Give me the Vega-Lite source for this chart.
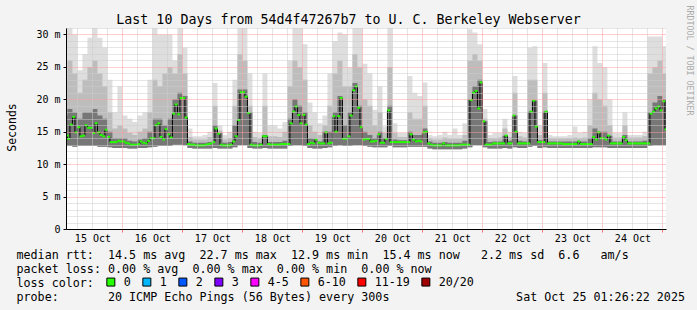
{
"$schema": "https://vega.github.io/schema/vega-lite/v6.json",
"width": 600, "height": 201,
"autosize": {"type": "none"},
"padding": {"left": 66, "top": 28, "right": 31, "bottom": 81},
"background": "#f3f3f3",
"title": {"text": "Last 10 Days from 54d4f47267b7 to U. C. Berkeley Webserver", "font": "DejaVu Sans Mono", "fontSize": 13.3, "fontWeight": "normal", "color": "#000000", "anchor": "middle", "frame": "group", "dx": -17.5, "baseline": "alphabetic", "offset": -32},
"datasets": {
"smoke": [
{"t":1.43,"lo":12.8,"dhi":17.5,"mhi":23,"hi":31},
{"t":2,"lo":12.8,"dhi":18.5,"mhi":26,"hi":31},
{"t":4,"lo":12.7,"dhi":18,"mhi":24,"hi":30},
{"t":6,"lo":12.8,"dhi":17,"mhi":21,"hi":24.5},
{"t":8,"lo":12.8,"dhi":18,"mhi":23,"hi":27},
{"t":10,"lo":12.8,"dhi":18,"mhi":25,"hi":29.5},
{"t":12,"lo":12.8,"dhi":18.5,"mhi":26,"hi":31},
{"t":14,"lo":12.7,"dhi":17.5,"mhi":24,"hi":29.5},
{"t":16,"lo":12.7,"dhi":17,"mhi":22,"hi":28},
{"t":18,"lo":12.6,"dhi":15,"mhi":18,"hi":23},
{"t":20,"lo":12.5,"dhi":14,"mhi":15.5,"hi":18},
{"t":22,"lo":12.5,"dhi":14,"mhi":16,"hi":22},
{"t":24,"lo":12.5,"dhi":14,"mhi":15.5,"hi":17.5},
{"t":26,"lo":12.4,"dhi":13.6,"mhi":14.8,"hi":17},
{"t":28,"lo":12.4,"dhi":13.5,"mhi":14.5,"hi":16.5},
{"t":30,"lo":12.5,"dhi":13.8,"mhi":15,"hi":17.5},
{"t":32,"lo":12.5,"dhi":14,"mhi":15.5,"hi":18},
{"t":34,"lo":12.6,"dhi":15,"mhi":18,"hi":23},
{"t":36,"lo":12.7,"dhi":17,"mhi":23,"hi":31},
{"t":38,"lo":12.8,"dhi":17,"mhi":22,"hi":30},
{"t":40,"lo":12.8,"dhi":16,"mhi":24,"hi":30},
{"t":42,"lo":12.8,"dhi":17,"mhi":25,"hi":30},
{"t":44,"lo":13,"dhi":20,"mhi":24,"hi":26},
{"t":46,"lo":13,"dhi":21,"mhi":27,"hi":31},
{"t":48,"lo":12.9,"dhi":20.5,"mhi":24,"hi":28},
{"t":50,"lo":12.5,"dhi":13.5,"mhi":14.2,"hi":15.5},
{"t":52,"lo":12.4,"dhi":13.3,"mhi":13.8,"hi":14.3},
{"t":54,"lo":12.4,"dhi":13.3,"mhi":13.8,"hi":14.3},
{"t":56,"lo":12.4,"dhi":13.3,"mhi":13.8,"hi":14.5},
{"t":58,"lo":12.4,"dhi":13.4,"mhi":14.2,"hi":15},
{"t":60,"lo":12.5,"dhi":16,"mhi":19,"hi":22.5},
{"t":62,"lo":12.4,"dhi":14.8,"mhi":15.2,"hi":16},
{"t":64,"lo":12.4,"dhi":13.3,"mhi":13.8,"hi":14.5},
{"t":66,"lo":12.4,"dhi":13.4,"mhi":14,"hi":15},
{"t":68,"lo":12.6,"dhi":16,"mhi":19,"hi":23},
{"t":70,"lo":12.9,"dhi":21.5,"mhi":27,"hi":31},
{"t":72,"lo":12.9,"dhi":21.5,"mhi":26,"hi":31},
{"t":74,"lo":12.5,"dhi":18,"mhi":19,"hi":24},
{"t":76,"lo":12.4,"dhi":13.4,"mhi":14.2,"hi":15},
{"t":78,"lo":12.4,"dhi":13.3,"mhi":14,"hi":14.8},
{"t":80,"lo":12.5,"dhi":14.5,"mhi":19,"hi":24},
{"t":82,"lo":12.4,"dhi":13.4,"mhi":14.3,"hi":16},
{"t":84,"lo":12.4,"dhi":13.4,"mhi":14.3,"hi":16},
{"t":86,"lo":12.4,"dhi":13.4,"mhi":14.2,"hi":15.5},
{"t":88,"lo":12.4,"dhi":13.6,"mhi":15,"hi":16.5},
{"t":90,"lo":12.8,"dhi":17,"mhi":22,"hi":26},
{"t":92,"lo":12.9,"dhi":20,"mhi":26,"hi":31},
{"t":94,"lo":12.9,"dhi":19,"mhi":25,"hi":31},
{"t":96,"lo":12.8,"dhi":18,"mhi":23,"hi":28.5},
{"t":98,"lo":12.5,"dhi":14,"mhi":16,"hi":19.5},
{"t":100,"lo":12.4,"dhi":13.9,"mhi":15,"hi":18},
{"t":102,"lo":12.4,"dhi":13.5,"mhi":14.5,"hi":16.3},
{"t":104,"lo":12.5,"dhi":15,"mhi":16,"hi":17.5},
{"t":106,"lo":12.6,"dhi":15,"mhi":19,"hi":24},
{"t":108,"lo":12.8,"dhi":18,"mhi":24,"hi":29},
{"t":110,"lo":12.9,"dhi":20.5,"mhi":26,"hi":30.3},
{"t":112,"lo":12.8,"dhi":16,"mhi":22,"hi":30},
{"t":114,"lo":12.8,"dhi":18,"mhi":22,"hi":25},
{"t":116,"lo":12.9,"dhi":22.5,"mhi":27,"hi":31},
{"t":118,"lo":12.9,"dhi":19,"mhi":25,"hi":31},
{"t":120,"lo":12.8,"dhi":15,"mhi":20,"hi":25.5},
{"t":122,"lo":12.7,"dhi":14.5,"mhi":19,"hi":24},
{"t":124,"lo":12.6,"dhi":14,"mhi":16,"hi":18.4},
{"t":126,"lo":12.6,"dhi":15,"mhi":18,"hi":22},
{"t":128,"lo":12.6,"dhi":14,"mhi":14.8,"hi":15.8},
{"t":130,"lo":12.8,"dhi":19,"mhi":25,"hi":31},
{"t":132,"lo":12.6,"dhi":13.8,"mhi":14.8,"hi":16.3},
{"t":134,"lo":12.6,"dhi":13.7,"mhi":14.2,"hi":14.8},
{"t":136,"lo":12.6,"dhi":13.7,"mhi":14.2,"hi":14.8},
{"t":138,"lo":12.7,"dhi":15,"mhi":18,"hi":23.6},
{"t":140,"lo":12.7,"dhi":14.5,"mhi":17,"hi":21},
{"t":142,"lo":12.7,"dhi":14.5,"mhi":17,"hi":20.5},
{"t":144,"lo":12.7,"dhi":15.5,"mhi":19,"hi":22.6},
{"t":146,"lo":12.4,"dhi":13.5,"mhi":14,"hi":14.5},
{"t":148,"lo":12.3,"dhi":13.3,"mhi":13.8,"hi":14.3},
{"t":150,"lo":12.3,"dhi":13.3,"mhi":13.8,"hi":14.5},
{"t":152,"lo":12.3,"dhi":13.4,"mhi":14.1,"hi":15},
{"t":154,"lo":12.3,"dhi":13.3,"mhi":13.9,"hi":14.5},
{"t":156,"lo":12.3,"dhi":13.3,"mhi":13.9,"hi":15.5},
{"t":158,"lo":12.3,"dhi":13.3,"mhi":13.9,"hi":14.5},
{"t":160,"lo":12.4,"dhi":13.6,"mhi":14.5,"hi":16.3},
{"t":162,"lo":12.6,"dhi":20,"mhi":26,"hi":30.8},
{"t":164,"lo":12.9,"dhi":22,"mhi":27,"hi":30.3},
{"t":166,"lo":12.9,"dhi":23,"mhi":26,"hi":28.5},
{"t":168,"lo":12.6,"dhi":16.6,"mhi":17,"hi":18.5},
{"t":170,"lo":12.4,"dhi":13.4,"mhi":14,"hi":14.5},
{"t":172,"lo":12.4,"dhi":13.5,"mhi":14,"hi":14.8},
{"t":174,"lo":12.4,"dhi":13.5,"mhi":14.1,"hi":14.8},
{"t":176,"lo":12.5,"dhi":14.4,"mhi":15.5,"hi":17},
{"t":178,"lo":12.4,"dhi":13.6,"mhi":14.2,"hi":15},
{"t":180,"lo":12.6,"dhi":17.5,"mhi":21,"hi":23.6},
{"t":182,"lo":12.5,"dhi":13.6,"mhi":14.3,"hi":15},
{"t":184,"lo":12.5,"dhi":13.5,"mhi":14.1,"hi":14.8},
{"t":186,"lo":12.7,"dhi":18.1,"mhi":23,"hi":28},
{"t":188,"lo":12.8,"dhi":19.8,"mhi":23,"hi":28.2},
{"t":190,"lo":12.5,"dhi":13.7,"mhi":14.5,"hi":16},
{"t":192,"lo":12.6,"dhi":18.1,"mhi":21,"hi":25.6},
{"t":194,"lo":12.5,"dhi":13.5,"mhi":14,"hi":14.5},
{"t":196,"lo":12.5,"dhi":13.5,"mhi":14,"hi":14.3},
{"t":198,"lo":12.5,"dhi":13.5,"mhi":14,"hi":14.3},
{"t":200,"lo":12.5,"dhi":13.5,"mhi":14,"hi":14.3},
{"t":202,"lo":12.5,"dhi":13.5,"mhi":14,"hi":14.5},
{"t":204,"lo":12.5,"dhi":13.5,"mhi":14.1,"hi":15.8},
{"t":206,"lo":12.5,"dhi":13.5,"mhi":14,"hi":14.8},
{"t":208,"lo":12.5,"dhi":13.5,"mhi":14.1,"hi":15},
{"t":210,"lo":12.5,"dhi":14,"mhi":16,"hi":20},
{"t":212,"lo":12.6,"dhi":15.5,"mhi":21,"hi":28.2},
{"t":214,"lo":12.6,"dhi":15,"mhi":20,"hi":25.6},
{"t":216,"lo":12.6,"dhi":15,"mhi":19,"hi":25},
{"t":218,"lo":12.5,"dhi":14.4,"mhi":16,"hi":20},
{"t":220,"lo":12.5,"dhi":13.5,"mhi":14.1,"hi":14.8},
{"t":222,"lo":12.5,"dhi":13.5,"mhi":14.1,"hi":14.8},
{"t":224,"lo":12.5,"dhi":14.5,"mhi":16,"hi":18},
{"t":226,"lo":12.5,"dhi":13.5,"mhi":14.1,"hi":14.5},
{"t":228,"lo":12.5,"dhi":13.5,"mhi":14.1,"hi":14.5},
{"t":230,"lo":12.5,"dhi":13.5,"mhi":14.1,"hi":14.5},
{"t":232,"lo":12.5,"dhi":13.6,"mhi":14.3,"hi":15},
{"t":234,"lo":12.8,"dhi":18,"mhi":24,"hi":29.7},
{"t":236,"lo":12.9,"dhi":19.5,"mhi":25,"hi":29.7},
{"t":238,"lo":12.9,"dhi":20.5,"mhi":26,"hi":29.7},
{"t":240,"lo":12.9,"dhi":20,"mhi":24,"hi":28.2},
{"t":241.43,"lo":12.9,"dhi":20,"mhi":24,"hi":28.2}
],
"med": [
{"t":1.43,"m":14.4,"loss":"0"},{"t":2,"m":13.9,"loss":"0"},{"t":3,"m":16.1,"loss":"0"},{"t":4,"m":17.3,"loss":"0"},{"t":5,"m":14.9,"loss":"0"},{"t":6,"m":15.7,"loss":"0"},{"t":7,"m":14.3,"loss":"0"},{"t":8,"m":14.4,"loss":"0"},{"t":9,"m":16.0,"loss":"0"},{"t":10,"m":15.6,"loss":"0"},
{"t":11,"m":15.6,"loss":"0"},{"t":12,"m":14.8,"loss":"0"},{"t":13,"m":16.3,"loss":"0"},{"t":14,"m":14.9,"loss":"0"},{"t":15,"m":14.5,"loss":"0"},{"t":16,"m":14.3,"loss":"0"},{"t":17,"m":15.3,"loss":"0"},{"t":18,"m":14.2,"loss":"0"},{"t":19,"m":13.4,"loss":"0"},{"t":20,"m":13.4,"loss":"0"},
{"t":21,"m":13.4,"loss":"0"},{"t":22,"m":13.6,"loss":"0"},{"t":23,"m":13.5,"loss":"0"},{"t":24,"m":13.5,"loss":"0"},{"t":25,"m":13.3,"loss":"0"},{"t":26,"m":13.2,"loss":"0"},{"t":27,"m":13.0,"loss":"0"},{"t":28,"m":13.0,"loss":"0"},{"t":29,"m":13.0,"loss":"0"},{"t":30,"m":13.1,"loss":"0"},
{"t":31,"m":13.5,"loss":"0"},{"t":32,"m":13.3,"loss":"0"},{"t":33,"m":13.2,"loss":"0"},{"t":34,"m":13.6,"loss":"0"},{"t":35,"m":14.0,"loss":"0"},{"t":36,"m":14.0,"loss":"0"},{"t":37,"m":16.0,"loss":"0"},{"t":38,"m":16.3,"loss":"0"},{"t":39,"m":14.2,"loss":"0"},{"t":40,"m":13.8,"loss":"0"},
{"t":41,"m":15.4,"loss":"0"},{"t":42,"m":14.6,"loss":"0"},{"t":43,"m":14.1,"loss":"0"},{"t":44,"m":17.8,"loss":"0"},{"t":45,"m":19.2,"loss":"0"},{"t":46,"m":17.7,"loss":"0"},{"t":47,"m":20.2,"loss":"0"},{"t":48,"m":20.2,"loss":"0"},{"t":49,"m":17.2,"loss":"0"},{"t":50,"m":13.1,"loss":"0"},
{"t":51,"m":13.0,"loss":"0"},{"t":52,"m":13.0,"loss":"0"},{"t":53,"m":12.9,"loss":"0"},{"t":54,"m":12.9,"loss":"0"},{"t":55,"m":12.9,"loss":"0"},{"t":56,"m":12.9,"loss":"0"},{"t":57,"m":13.0,"loss":"0"},{"t":58,"m":13.1,"loss":"0"},{"t":59,"m":13.2,"loss":"0"},{"t":60,"m":13.4,"loss":"0"},
{"t":61,"m":15.5,"loss":"0"},{"t":62,"m":14.7,"loss":"0"},{"t":63,"m":13.0,"loss":"0"},{"t":64,"m":12.9,"loss":"0"},{"t":65,"m":12.9,"loss":"0"},{"t":66,"m":12.9,"loss":"0"},{"t":67,"m":13.0,"loss":"0"},{"t":68,"m":13.5,"loss":"0"},{"t":69,"m":14.3,"loss":"0"},{"t":70,"m":16.8,"loss":"0"},
{"t":71,"m":21.1,"loss":"0"},{"t":72,"m":21.1,"loss":"0"},{"t":73,"m":20.4,"loss":"0"},{"t":74,"m":17.9,"loss":"0"},{"t":75,"m":13.0,"loss":"0"},{"t":76,"m":12.9,"loss":"0"},{"t":77,"m":12.9,"loss":"0"},{"t":78,"m":12.9,"loss":"0"},{"t":79,"m":13.0,"loss":"0"},{"t":80,"m":14.3,"loss":"0"},
{"t":81,"m":14.3,"loss":"0"},{"t":82,"m":13.1,"loss":"0"},{"t":83,"m":13.0,"loss":"0"},{"t":84,"m":13.0,"loss":"0"},{"t":85,"m":13.0,"loss":"0"},{"t":86,"m":13.0,"loss":"0"},{"t":87,"m":13.1,"loss":"0"},{"t":88,"m":13.1,"loss":"0"},{"t":89,"m":13.1,"loss":"0"},{"t":90,"m":13.1,"loss":"0"},
{"t":91,"m":16.3,"loss":"0"},{"t":92,"m":18.1,"loss":"0"},{"t":93,"m":18.9,"loss":"0"},{"t":94,"m":17.6,"loss":"0"},{"t":95,"m":16.3,"loss":"0"},{"t":96,"m":17.6,"loss":"0"},{"t":97,"m":16.1,"loss":"0"},{"t":98,"m":13.1,"loss":"0"},{"t":99,"m":13.3,"loss":"0"},{"t":100,"m":13.2,"loss":"0"},
{"t":101,"m":13.8,"loss":"0"},{"t":102,"m":13.3,"loss":"0"},{"t":103,"m":13.2,"loss":"0"},{"t":104,"m":13.2,"loss":"0"},{"t":105,"m":14.9,"loss":"0"},{"t":106,"m":13.2,"loss":"0"},{"t":107,"m":13.3,"loss":"0"},{"t":108,"m":17.4,"loss":"0"},{"t":109,"m":15.0,"loss":"0"},{"t":110,"m":17.4,"loss":"0"},
{"t":111,"m":20.2,"loss":"0"},{"t":112,"m":13.9,"loss":"0"},{"t":113,"m":13.9,"loss":"0"},{"t":114,"m":14.3,"loss":"0"},{"t":115,"m":17.5,"loss":"0"},{"t":116,"m":21.4,"loss":"0"},{"t":117,"m":22.0,"loss":"0"},{"t":118,"m":18.7,"loss":"0"},{"t":119,"m":15.7,"loss":"0"},{"t":120,"m":13.8,"loss":"0"},
{"t":121,"m":13.9,"loss":"0"},{"t":122,"m":13.9,"loss":"0"},{"t":123,"m":13.5,"loss":"0"},{"t":124,"m":13.5,"loss":"0"},{"t":125,"m":13.6,"loss":"0"},{"t":126,"m":14.6,"loss":"0"},{"t":127,"m":13.3,"loss":"0"},{"t":128,"m":13.3,"loss":"0"},{"t":129,"m":13.9,"loss":"0"},{"t":130,"m":18.3,"loss":"0"},
{"t":131,"m":13.4,"loss":"0"},{"t":132,"m":13.4,"loss":"0"},{"t":133,"m":13.4,"loss":"0"},{"t":134,"m":13.4,"loss":"0"},{"t":135,"m":13.4,"loss":"0"},{"t":136,"m":13.4,"loss":"0"},{"t":137,"m":13.4,"loss":"0"},{"t":138,"m":13.4,"loss":"0"},{"t":139,"m":14.6,"loss":"0"},{"t":140,"m":13.8,"loss":"0"},
{"t":141,"m":13.5,"loss":"0"},{"t":142,"m":13.6,"loss":"0"},{"t":143,"m":13.5,"loss":"0"},{"t":144,"m":14.9,"loss":"0"},{"t":145,"m":15.0,"loss":"0"},{"t":146,"m":13.2,"loss":"0"},{"t":147,"m":13.0,"loss":"0"},{"t":148,"m":12.9,"loss":"0"},{"t":149,"m":12.9,"loss":"0"},{"t":150,"m":12.9,"loss":"0"},
{"t":151,"m":12.9,"loss":"0"},{"t":152,"m":13.2,"loss":"0"},{"t":153,"m":12.9,"loss":"0"},{"t":154,"m":12.9,"loss":"0"},{"t":155,"m":12.9,"loss":"0"},{"t":156,"m":12.9,"loss":"0"},{"t":157,"m":12.9,"loss":"0"},{"t":158,"m":12.9,"loss":"0"},{"t":159,"m":13.0,"loss":"0"},{"t":160,"m":13.0,"loss":"0"},
{"t":161,"m":13.0,"loss":"0"},{"t":162,"m":13.0,"loss":"0"},{"t":163,"m":19.9,"loss":"0"},{"t":164,"m":21.0,"loss":"0"},{"t":165,"m":21.3,"loss":"0"},{"t":166,"m":18.6,"loss":"0"},{"t":167,"m":22.6,"loss":"0"},{"t":168,"m":16.6,"loss":"0"},{"t":169,"m":13.0,"loss":"0"},{"t":170,"m":13.0,"loss":"0"},
{"t":171,"m":13.0,"loss":"0"},{"t":172,"m":13.2,"loss":"0"},{"t":173,"m":13.2,"loss":"0"},{"t":174,"m":13.2,"loss":"0"},{"t":175,"m":13.2,"loss":"0"},{"t":176,"m":13.2,"loss":"0"},{"t":177,"m":14.4,"loss":"0"},{"t":178,"m":13.2,"loss":"0"},{"t":179,"m":13.2,"loss":"0"},{"t":180,"m":17.5,"loss":"0"},
{"t":181,"m":15.0,"loss":"0"},{"t":182,"m":13.2,"loss":"0"},{"t":183,"m":13.2,"loss":"0"},{"t":184,"m":13.2,"loss":"0"},{"t":185,"m":13.2,"loss":"0"},{"t":186,"m":13.2,"loss":"0"},{"t":187,"m":18.1,"loss":"0"},{"t":188,"m":19.8,"loss":"0"},{"t":189,"m":15.8,"loss":"0"},{"t":190,"m":13.4,"loss":"0"},
{"t":191,"m":13.4,"loss":"0"},{"t":192,"m":13.4,"loss":"0"},{"t":193,"m":18.1,"loss":"0"},{"t":194,"m":13.2,"loss":"0"},{"t":195,"m":13.2,"loss":"0"},{"t":196,"m":13.2,"loss":"0"},{"t":197,"m":13.2,"loss":"0"},{"t":198,"m":13.2,"loss":"0"},{"t":199,"m":13.2,"loss":"0"},{"t":200,"m":13.1,"loss":"0"},
{"t":201,"m":13.1,"loss":"0"},{"t":202,"m":13.1,"loss":"0"},{"t":203,"m":13.1,"loss":"0"},{"t":204,"m":13.1,"loss":"0"},{"t":205,"m":13.1,"loss":"0"},{"t":206,"m":13.5,"loss":"0"},{"t":207,"m":13.1,"loss":"0"},{"t":208,"m":13.1,"loss":"0"},{"t":209,"m":13.1,"loss":"0"},{"t":210,"m":13.1,"loss":"0"},
{"t":211,"m":13.1,"loss":"0"},{"t":212,"m":14.2,"loss":"0"},{"t":213,"m":13.8,"loss":"0"},{"t":214,"m":14.9,"loss":"0"},{"t":215,"m":14.0,"loss":"0"},{"t":216,"m":14.0,"loss":"0"},{"t":217,"m":13.8,"loss":"0"},{"t":218,"m":14.4,"loss":"0"},{"t":219,"m":13.2,"loss":"0"},{"t":220,"m":13.2,"loss":"0"},
{"t":221,"m":13.2,"loss":"0"},{"t":222,"m":13.2,"loss":"0"},{"t":223,"m":13.2,"loss":"0"},{"t":224,"m":14.2,"loss":"0"},{"t":225,"m":13.7,"loss":"0"},{"t":226,"m":13.2,"loss":"0"},{"t":227,"m":13.2,"loss":"0"},{"t":228,"m":13.2,"loss":"0"},{"t":229,"m":13.2,"loss":"0"},{"t":230,"m":13.2,"loss":"0"},
{"t":231,"m":13.2,"loss":"0"},{"t":232,"m":13.2,"loss":"0"},{"t":233,"m":13.2,"loss":"0"},{"t":234,"m":13.2,"loss":"0"},{"t":235,"m":17.8,"loss":"0"},{"t":236,"m":18.1,"loss":"0"},{"t":237,"m":18.6,"loss":"0"},{"t":238,"m":18.9,"loss":"0"},{"t":239,"m":18.3,"loss":"0"},{"t":240,"m":19.7,"loss":"0"},
{"t":241,"m":15.4,"loss":"0"},{"t":241.43,"m":15.4,"loss":"0"}
]
},
"encoding": {
  "x": {"field": "t", "type": "quantitative",
    "scale": {"domain": [1.43, 241.43], "nice": false, "zero": false},
    "axis": {
      "values": [6,12,18,24,30,36,42,48,54,60,66,72,78,84,90,96,102,108,114,120,126,132,138,144,150,156,162,168,174,180,186,192,198,204,210,216,222,228,234,240],
      "grid": true,
      "gridColor": {"condition": {"test": "datum.value % 24 == 0", "value": "#ff9c9c"}, "value": "#cccccc"},
      "gridDash": [1, 1],
      "gridWidth": 1,
      "tickColor": {"condition": {"test": "datum.value % 24 == 0", "value": "#ff7070"}, "value": "transparent"},
      "tickSize": 3,
      "labelExpr": "datum.value % 24 == 12 ? (15 + floor(datum.value / 24)) + ' Oct' : ''",
      "labelFont": "DejaVu Sans Mono", "labelFontSize": 10, "labelColor": "#000000", "labelPadding": 1,
      "labelOverlap": false, "labelFlush": false,
      "domainColor": "#000000", "domainWidth": 1,
      "title": [
        "median rtt:\u00a0\u00a014.5 ms avg\u00a0\u00a022.7 ms max\u00a0\u00a012.9 ms min\u00a0\u00a015.4 ms now\u00a0\u00a0\u00a02.2 ms sd\u00a0\u00a06.6\u00a0\u00a0\u00a0am/s",
        "packet loss: 0.00 % avg\u00a0\u00a00.00 % max\u00a0\u00a00.00 % min\u00a0\u00a00.00 % now",
        "loss color:",
        "probe:\u00a0\u00a0\u00a0\u00a0\u00a0\u00a0\u00a020 ICMP Echo Pings (56 Bytes) every 300s\u00a0\u00a0\u00a0\u00a0\u00a0\u00a0\u00a0\u00a0\u00a0\u00a0\u00a0\u00a0\u00a0\u00a0\u00a0\u00a0\u00a0\u00a0Sat Oct 25 01:26:22 2025"
      ],
      "titleX": -50, "titleY": 29.6, "titleAlign": "left", "titleBaseline": "alphabetic",
      "titleFont": "DejaVu Sans Mono", "titleFontSize": 11.7, "titleFontWeight": "normal",
      "titleLineHeight": 14, "titleColor": "#000000",
      "zindex": 1
    }
  }
},
"layer": [
  {"data": {"name": "smoke"},
   "mark": {"type": "area", "interpolate": "step-after", "color": "#dedede", "clip": true},
   "encoding": {
     "y": {"field": "hi", "type": "quantitative", "scale": {"domain": [0, 31], "nice": false, "zero": true},
       "axis": {
         "values": [0,1,2,3,4,5,6,7,8,9,10,11,12,13,14,15,16,17,18,19,20,21,22,23,24,25,26,27,28,29,30,31],
         "grid": true,
         "gridColor": {"condition": {"test": "datum.value % 5 == 0", "value": "#ff9c9c"}, "value": "#cccccc"},
         "gridDash": [1, 1],
         "tickColor": {"condition": {"test": "datum.value % 5 == 0", "value": "#000000"}, "value": "transparent"},
         "tickSize": 3,
         "labelExpr": "datum.value == 0 ? '0' : (datum.value % 5 == 0 ? datum.value + ' m' : '')",
         "labelFont": "DejaVu Sans Mono", "labelFontSize": 10, "labelColor": "#000000", "labelPadding": 3,
         "labelOverlap": false, "labelFlush": false,
         "domainColor": "#000000",
         "title": "Seconds", "titleX": -51, "titleY": 99, "titleAngle": -90, "titleAlign": "center", "titleBaseline": "alphabetic",
         "titleFont": "DejaVu Sans Mono", "titleFontSize": 11.5, "titleFontWeight": "normal", "titleColor": "#000000",
         "zindex": 1
       }},
     "y2": {"field": "lo"}
   }},
  {"data": {"name": "smoke"},
   "mark": {"type": "area", "interpolate": "step-after", "color": "#bdbdbd", "clip": true},
   "encoding": {
     "y": {"field": "mhi", "type": "quantitative", "scale": {"domain": [0, 31], "nice": false, "zero": true},
       "axis": {"orient": "right", "labels": false, "ticks": false, "domain": false, "grid": false,
         "title": "RRDTOOL / TOBI OETIKER", "titleAngle": 90, "titleX": 22, "titleY": -23,
         "titleAlign": "left", "titleBaseline": "middle", "titleFont": "DejaVu Sans Mono", "titleFontSize": 8.3,
         "titleFontWeight": "normal", "titleColor": "#aaaaaa"}},
     "y2": {"field": "lo"}
   }},
  {"data": {"name": "smoke"},
   "mark": {"type": "area", "interpolate": "step-after", "color": "#777777", "clip": true},
   "encoding": {
     "y": {"field": "dhi", "type": "quantitative", "scale": {"domain": [0, 31], "nice": false, "zero": true}, "axis": null},
     "y2": {"field": "lo"}
   }},
  {"data": {"name": "med"},
   "mark": {"type": "line", "interpolate": "step-after", "color": "#000000", "strokeWidth": 1, "clip": true},
   "encoding": {
     "y": {"field": "m", "type": "quantitative", "scale": {"domain": [0, 31], "nice": false, "zero": true}, "axis": null}
   }},
  {"data": {"name": "med"},
   "mark": {"type": "tick", "orient": "horizontal", "size": 3, "thickness": 2, "xOffset": 1.25, "clip": true, "opacity": 1},
   "encoding": {
     "y": {"field": "m", "type": "quantitative", "scale": {"domain": [0, 31], "nice": false, "zero": true}, "axis": null},
     "color": {"field": "loss", "type": "nominal",
       "scale": {"domain": ["0","1","2","3","4-5","6-10","11-19","20/20"],
                 "range": ["#26ff00","#00b8ff","#0059ff","#7e00ff","#ff00ff","#ff5500","#ff0000","#a10000"]},
       "legend": {"title": null, "orient": "none", "legendX": 39, "legendY": 248,
         "direction": "horizontal", "columns": 8,
         "symbolType": "square", "symbolSize": 64, "symbolStrokeColor": "#000000", "symbolStrokeWidth": 1, "symbolOpacity": 1,
         "labelOffset": 7, "columnPadding": 9, "padding": 0,
         "labelFont": "DejaVu Sans Mono", "labelFontSize": 11.7, "labelColor": "#000000",
         "encode": {"symbols": {"update": {"stroke": {"value": "#000000"}, "strokeWidth": {"value": 1}}}}}
     }
   }}
],
"resolve": {"axis": {"y": "independent"}},
"config": {"view": {"fill": "white", "stroke": null}, "font": "DejaVu Sans Mono"}
}
